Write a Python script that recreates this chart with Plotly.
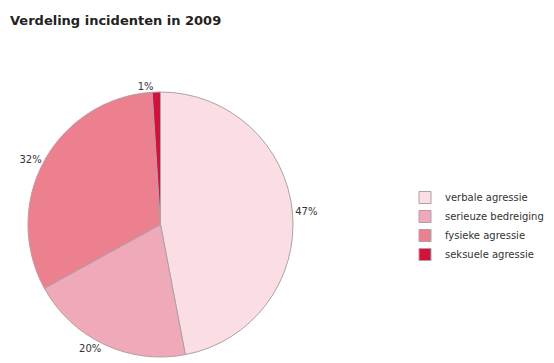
import plotly.graph_objects as go

categories = ["verbale agressie", "serieuze bedreiging", "fysieke agressie", "seksuele agressie"]
values = [47, 20, 32, 1]
colors = ["#FBDDE4", "#F0A9B9", "#EC808F", "#D3113D"]
labels_text = [f"{v}%" for v in values]

W, H = 554, 363

fig = go.Figure(go.Pie(
    labels=categories,
    values=values,
    text=labels_text,
    textinfo="text",
    textposition="outside",
    sort=False,
    direction="clockwise",
    rotation=0,
    marker=dict(colors=colors, line=dict(color="#B0A0A4", width=1)),
    textfont=dict(family="DejaVu Sans", size=10, color="#333333"),
    domain=dict(x=[14 / W, 291 / W], y=[1 - 349 / H, 1 - 84 / H]),
    hoverinfo="label+percent",
))

fig.update_layout(
    width=W, height=H,
    margin=dict(l=0, r=0, t=0, b=0, autoexpand=False),
    paper_bgcolor="white",
    plot_bgcolor="white",
    title=dict(text="<b>Verdeling incidenten in 2009</b>", x=2 / W, xanchor="left",
               y=1 - 12 / H, yanchor="middle",
               font=dict(family="DejaVu Sans", size=13, color="#222222")),
    legend=dict(x=397 / W, y=1 - 175 / H, xanchor="left", yanchor="top",
                font=dict(family="DejaVu Sans", size=10, color="#333333"),
                itemwidth=30, tracegroupgap=0, traceorder="normal"),
    showlegend=True,
)

fig.write_html("out.html")
